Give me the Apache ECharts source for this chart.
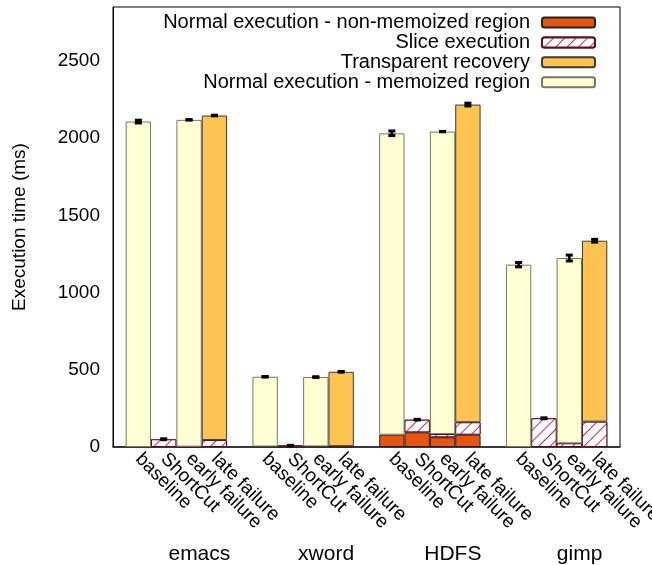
<!DOCTYPE html>
<html>
<head>
<meta charset="utf-8">
<script src="https://cdn.jsdelivr.net/npm/echarts@6/dist/echarts.min.js"></script>
<style>html,body{margin:0;padding:0;background:#fff;}#c{width:652px;height:565px;}</style>
</head>
<body>
<div id="c"></div>
<script>
// ---- data ----
const groups = ['emacs', 'xword', 'HDFS', 'gimp'];
const variants = ['baseline', 'ShortCut', 'early failure', 'late failure'];
// 16 bars: per group baseline, ShortCut, early failure, late failure
const nonMemoized = [null, null, null, null, 3, 3, 3, 3, 80, 95, 63, 80, null, null, null, null];
const sliceExec   = [null, 50, 2, 45, null, 6, 1, 2, null, 82, 21, 80, null, 186, 24, 164];
const memoized    = [2108, null, 2117, null, 452, null, 449, null, 1952, null, 1959, null, 1181, null, 1200, null];
const recovery    = [null, null, null, 2102, null, null, null, 482, null, null, null, 2058, null, null, null, 1172];
const errHalf     = [9, 3, 1, 2, 2, 2, 2, 2, 15, 2, 1, 9, 14, 3, 19, 9];
const yTicks = [0, 500, 1000, 1500, 2000, 2500];
const yMax = 2850;
const names = ['Normal execution - non-memoized region', 'Slice execution', 'Transparent recovery', 'Normal execution - memoized region'];

// ---- build category slots: blank, 4 bars, blank, ... , blank ----
const slots = [];
const slotOfBar = [];
groups.forEach((g, gi) => {
  slots.push('');
  variants.forEach((v) => { slotOfBar.push(slots.length); slots.push(v); });
});
slots.push('');
function pad(arr) {
  const out = slots.map(() => null);
  arr.forEach((v, i) => { out[slotOfBar[i]] = v; });
  return out;
}
const totals = nonMemoized.map((_, i) => [nonMemoized, sliceExec, memoized, recovery].reduce((s, a) => s + (a[i] || 0), 0));
const errData = totals.map((t, i) => [slotOfBar[i], t, errHalf[i]]);

const FONT = 'Liberation Sans';
const chart = echarts.init(document.getElementById('c'), null, { renderer: 'canvas' });

function legendFor(name, top) {
  return {
    data: [name], right: 56, top: top, orient: 'vertical', align: 'right', padding: 0,
    itemWidth: 53, itemHeight: 10, selectedMode: false,
    textStyle: { fontFamily: FONT, fontSize: 20, color: '#000', lineHeight: 20, padding: [0, 7, 0, 0] }
  };
}

const barBase = { type: 'bar', stack: 'total', xAxisIndex: 0, yAxisIndex: 0, barCategoryGap: '0%', barWidth: '100%' };

chart.setOption({
  animation: false,
  backgroundColor: '#fff',
  textStyle: { fontFamily: FONT },
  legend: [legendFor(names[0], 12.5), legendFor(names[1], 32.5), legendFor(names[2], 52.3), legendFor(names[3], 72.3)],
  grid: [
    { left: 113, top: 7, width: 507, height: 440, show: true, borderColor: '#000', borderWidth: 1, backgroundColor: 'transparent', containLabel: false, outerBoundsMode: 'none' },
    { left: 136, top: 7, width: 507, height: 440, show: false, containLabel: false, outerBoundsMode: 'none' }
  ],
  xAxis: [
    {
      gridIndex: 0, type: 'category', data: slots, boundaryGap: false,
      axisLine: { show: true, lineStyle: { color: '#222', width: 1.5 } },
      axisTick: { show: false },
      axisLabel: { interval: 0, rotate: -45, margin: 9, fontFamily: FONT, fontSize: 19, color: '#000' },
      splitLine: { show: false }
    },
    {
      gridIndex: 1, type: 'category', data: groups,
      axisLine: { show: false }, axisTick: { show: false },
      axisLabel: { interval: 0, margin: 97, fontFamily: FONT, fontSize: 21, color: '#000' },
      splitLine: { show: false }
    }
  ],
  yAxis: [
    {
      gridIndex: 0, type: 'value', min: 0, max: yMax, interval: 500,
      name: 'Execution time (ms)', nameLocation: 'middle', nameGap: 84,
      nameTextStyle: { fontFamily: FONT, fontSize: 19, color: '#000' },
      axisLine: { show: true, lineStyle: { color: '#000', width: 1 } },
      axisTick: { show: false },
      splitLine: { show: false },
      axisLabel: {
        margin: 13, fontFamily: FONT, fontSize: 19, color: '#000',
        formatter: (v) => (yTicks.indexOf(v) >= 0 ? String(v) : '')
      }
    },
    { gridIndex: 1, type: 'value', min: 0, max: 1, show: false }
  ],
  series: [
    Object.assign({}, barBase, {
      name: names[0], data: pad(nonMemoized),
      itemStyle: { color: '#e6550d', borderColor: '#222', borderWidth: 1 }
    }),
    Object.assign({}, barBase, {
      name: names[1], data: pad(sliceExec),
      itemStyle: {
        color: '#ffffff', borderColor: '#5a1020', borderWidth: 1,
        decal: { symbol: 'rect', color: '#cc2a55', backgroundColor: '#ffffff', dashArrayX: [1, 0], dashArrayY: [1, 6.5], rotation: -Math.PI / 4, symbolSize: 1 }
      }
    }),
    Object.assign({}, barBase, {
      name: names[3], data: pad(memoized),
      itemStyle: { color: '#ffffd4', borderColor: '#77776a', borderWidth: 1 }
    }),
    Object.assign({}, barBase, {
      name: names[2], data: pad(recovery),
      itemStyle: { color: '#fec44f', borderColor: '#3a3a3a', borderWidth: 1 }
    }),
    {
      type: 'custom', name: 'err', xAxisIndex: 0, yAxisIndex: 0, z: 10, silent: true,
      data: errData,
      renderItem: function (params, api) {
        const x = api.value(0), v = api.value(1), e = api.value(2);
        const lo = api.coord([x, v - e]);
        const hi = api.coord([x, v + e]);
        const cx = lo[0];
        const st = { stroke: '#000', lineWidth: 3 };
        return {
          type: 'group',
          children: [
            { type: 'line', shape: { x1: cx, y1: lo[1], x2: cx, y2: hi[1] }, style: { stroke: '#000', lineWidth: 2.5 } },
            { type: 'line', shape: { x1: cx - 3.5, y1: lo[1], x2: cx + 3.5, y2: lo[1] }, style: st },
            { type: 'line', shape: { x1: cx - 3.5, y1: hi[1], x2: cx + 3.5, y2: hi[1] }, style: st }
          ]
        };
      }
    }
  ]
});
</script>
</body>
</html>
